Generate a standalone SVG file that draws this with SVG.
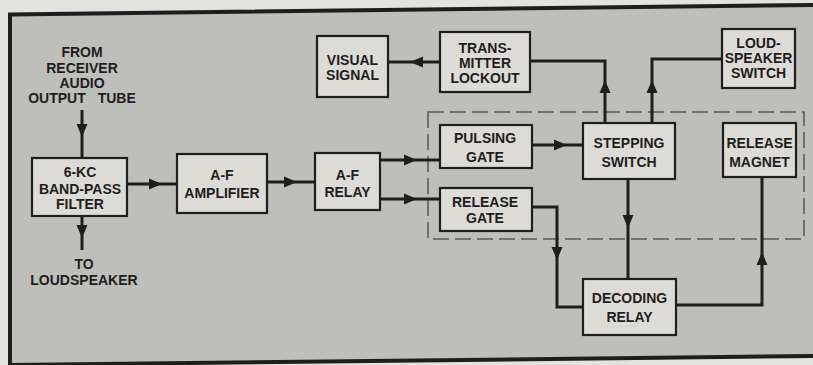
<svg xmlns="http://www.w3.org/2000/svg" xmlns:xlink="http://www.w3.org/1999/xlink" width="813" height="365" viewBox="0 0 813 365">
<style>
.box{fill:#dddbd5;stroke:#1e1e1e;stroke-width:2.2}
.lbl{font-family:"Liberation Sans",Arial,sans-serif;font-weight:bold;font-size:14px;fill:#1e1e1e;text-anchor:middle}
.wire{fill:none;stroke:#1e1e1e;stroke-width:3;stroke-linejoin:miter}
.dash{fill:none;stroke:#5a5a5a;stroke-width:1.6;stroke-dasharray:16 6}
</style>
<defs>
<path id="ah" d="M0,0 L-13,-5.5 L-13,5.5 Z" fill="#1e1e1e"/>
</defs>
<rect x="0" y="0" width="813" height="365" fill="#e4e2dc"/>
<polygon points="10,14.5 813,5 813,356 10,365" fill="#bebebb"/>
<polyline points="813,5 10,14.5 10,366" fill="none" stroke="#1e1e1e" stroke-width="4"/>
<line x1="10" y1="365" x2="813" y2="356" stroke="#1e1e1e" stroke-width="4"/>
<rect class="dash" x="428" y="112" width="376" height="127"/>

<g id="connectors">
<path class="wire" d="M82,110 L82,158"/>
<use xlink:href="#ah" transform="translate(82,137) rotate(90)"/>
<path class="wire" d="M82,216 L82,250"/>
<use xlink:href="#ah" transform="translate(82,238) rotate(90)"/>
<path class="wire" d="M127,184 L177,184"/>
<use xlink:href="#ah" transform="translate(162,184)"/>
<path class="wire" d="M267,182 L315,182"/>
<use xlink:href="#ah" transform="translate(297,182)"/>
<path class="wire" d="M380,160 L440,160"/>
<use xlink:href="#ah" transform="translate(417,160)"/>
<path class="wire" d="M380,199 L440,199"/>
<use xlink:href="#ah" transform="translate(417,199)"/>
<path class="wire" d="M532,145 L583,145"/>
<use xlink:href="#ah" transform="translate(567,145)"/>
<path class="wire" d="M605,123 L605,61 L530,61"/>
<use xlink:href="#ah" transform="translate(605,80) rotate(-90)"/>
<path class="wire" d="M440,62 L388,62"/>
<use xlink:href="#ah" transform="translate(410,62) rotate(180)"/>
<path class="wire" d="M652,123 L652,59 L722,59"/>
<use xlink:href="#ah" transform="translate(652,80) rotate(-90)"/>
<path class="wire" d="M628,179 L628,279"/>
<use xlink:href="#ah" transform="translate(628,228) rotate(90)"/>
<path class="wire" d="M532,207 L557,207 L557,307 L583,307"/>
<use xlink:href="#ah" transform="translate(557,260) rotate(90)"/>
<path class="wire" d="M676,305 L762,305 L762,177"/>
<use xlink:href="#ah" transform="translate(762,252) rotate(-90)"/>
</g>

<g id="label-from">
<text class="lbl" x="82" y="57">FROM</text>
<text class="lbl" x="82" y="73">RECEIVER</text>
<text class="lbl" x="82" y="88">AUDIO</text>
<text class="lbl" x="82" y="103" word-spacing="8">OUTPUT TUBE</text>
</g>
<g id="label-to">
<text class="lbl" x="84" y="269">TO</text>
<text class="lbl" x="84" y="285">LOUDSPEAKER</text>
</g>

<g id="filter">
<rect class="box" x="32" y="158" width="95" height="58"/>
<text class="lbl" x="80" y="177">6-KC</text>
<text class="lbl" x="80" y="194">BAND-PASS</text>
<text class="lbl" x="80" y="209">FILTER</text>
</g>
<g id="amplifier">
<rect class="box" x="177" y="154" width="90" height="59"/>
<text class="lbl" x="222" y="180">A-F</text>
<text class="lbl" x="222" y="198">AMPLIFIER</text>
</g>
<g id="af-relay">
<rect class="box" x="315" y="153" width="65" height="57"/>
<text class="lbl" x="347.5" y="180">A-F</text>
<text class="lbl" x="347.5" y="197">RELAY</text>
</g>
<g id="visual-signal">
<rect class="box" x="317" y="36" width="71" height="61"/>
<text class="lbl" x="352.5" y="65">VISUAL</text>
<text class="lbl" x="352.5" y="80">SIGNAL</text>
</g>
<g id="transmitter-lockout">
<rect class="box" x="440" y="32" width="90" height="60"/>
<text class="lbl" x="485" y="53">TRANS-</text>
<text class="lbl" x="485" y="68">MITTER</text>
<text class="lbl" x="485" y="83">LOCKOUT</text>
</g>
<g id="loudspeaker-switch">
<rect class="box" x="722" y="29" width="73" height="59"/>
<text class="lbl" x="758.5" y="48">LOUD-</text>
<text class="lbl" x="758.5" y="63">SPEAKER</text>
<text class="lbl" x="758.5" y="78">SWITCH</text>
</g>
<g id="pulsing-gate">
<rect class="box" x="440" y="125" width="92" height="43"/>
<text class="lbl" x="485" y="143">PULSING</text>
<text class="lbl" x="485" y="162">GATE</text>
</g>
<g id="release-gate">
<rect class="box" x="440" y="188" width="92" height="43"/>
<text class="lbl" x="485" y="207">RELEASE</text>
<text class="lbl" x="485" y="223">GATE</text>
</g>
<g id="stepping-switch">
<rect class="box" x="583" y="123" width="92" height="56"/>
<text class="lbl" x="629" y="148">STEPPING</text>
<text class="lbl" x="629" y="167">SWITCH</text>
</g>
<g id="release-magnet">
<rect class="box" x="723" y="123" width="73" height="54"/>
<text class="lbl" x="759.5" y="148" font-size="13">RELEASE</text>
<text class="lbl" x="759.5" y="167" font-size="13">MAGNET</text>
</g>
<g id="decoding-relay">
<rect class="box" x="583" y="279" width="93" height="56"/>
<text class="lbl" x="629.5" y="303">DECODING</text>
<text class="lbl" x="629.5" y="322">RELAY</text>
</g>
</svg>
